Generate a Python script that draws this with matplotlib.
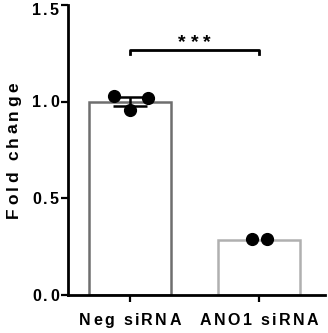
import matplotlib
matplotlib.use("Agg")
import matplotlib.pyplot as plt
import matplotlib.transforms as mtransforms
from matplotlib.font_manager import FontProperties
import numpy as np

# data
groups = ["Neg siRNA", "ANO1 siRNA"]
means = [1.0, 0.285]
sems = [0.022, 0.0]
neg_points = [1.03, 0.955, 1.02]
ano1_points = [0.29, 0.29]
jitter_neg = [-0.12, 0.0, 0.14]
jitter_ano1 = [-0.055, 0.06]
yticks = [0.0, 0.5, 1.0, 1.5]
ytick_labels = ["0.0", "0.5", "1.0", "1.5"]
edge_colors = ["#6e6e6e", "#b0b0b0"]

FAMILY = ["Liberation Sans", "DejaVu Sans"]
DPI = 100

fig = plt.figure(figsize=(3.28, 3.33), dpi=DPI)
ax = fig.add_axes([0.207, 0.114, 0.784, 0.871])
renderer = fig.canvas.get_renderer()


def advance(c, prop):
    # width of one character in pixels, kerning left out
    w1 = renderer.get_text_width_height_descent("H" + c + "H", prop, ismath=False)[0]
    w0 = renderer.get_text_width_height_descent("HH", prop, ismath=False)[0]
    return w1 - w0


def spaced_text(x, y, s, trans, size, spacing, align="center", rotation=0, dx=0, dy=0):
    # text with extra letter spacing (spacing in points), one glyph at a time
    prop = FontProperties(family=FAMILY, weight="bold", size=size)
    sp = spacing * DPI / 72.0
    adv = [advance(c, prop) for c in s]
    total = sum(adv) + sp * (len(s) - 1)
    pos = -total / 2.0 if align == "center" else -total
    for c, a in zip(s, adv):
        if c != " ":
            if rotation == 0:
                tr = mtransforms.offset_copy(trans, fig=fig, x=pos + dx, y=dy, units="dots")
            else:
                tr = mtransforms.offset_copy(trans, fig=fig, x=dx, y=pos + dy, units="dots")
            ax.text(x, y, c, transform=tr, ha="left", va="baseline", rotation=rotation,
                    rotation_mode="anchor", fontproperties=prop, clip_on=False)
        pos += a + sp


x = np.arange(len(groups))
ax.bar(x, means, width=0.64, color="white", edgecolor=edge_colors, linewidth=1.8, zorder=1)
ax.errorbar(x[0], means[0], yerr=sems[0], fmt="none", ecolor="black",
            elinewidth=1.8, capsize=12, capthick=1.8, zorder=2)

ax.scatter(x[0] + np.array(jitter_neg), neg_points, s=72, color="black", zorder=3)
ax.scatter(x[1] + np.array(jitter_ano1), ano1_points, s=72, color="black", zorder=3)

# significance bracket
ax.plot([0, 0, 1, 1], [1.246, 1.267, 1.267, 1.246], color="black", lw=2, clip_on=False)
spaced_text(0.5, 1.283, "***", ax.transData, 14, 3.5)

ax.set_xlim(-0.48, 1.51)
ax.set_ylim(0, 1.5)
ax.set_yticks(yticks)
ax.set_yticklabels([])
ax.set_xticks(x)
ax.set_xticklabels([])

ytrans = ax.get_yaxis_transform()
for v, lab in zip(yticks, ytick_labels):
    shift = -10 if v == 1.5 else -5.5
    spaced_text(0, v, lab, ytrans, 11.5, 1.6, align="right", dx=-9, dy=shift)

xtrans = ax.get_xaxis_transform()
for xi, lab in zip(x, groups):
    spaced_text(xi, 0, lab, xtrans, 11.5, 1.7, dy=-30)

spaced_text(0, 0.5, "Fold change", ax.transAxes, 12.5, 2.4, rotation=90, dx=-50)

for side in ["top", "right"]:
    ax.spines[side].set_visible(False)
for side in ["left", "bottom"]:
    ax.spines[side].set_linewidth(2)
ax.tick_params(width=1.6, length=5)

fig.savefig("out.png", dpi=DPI)
